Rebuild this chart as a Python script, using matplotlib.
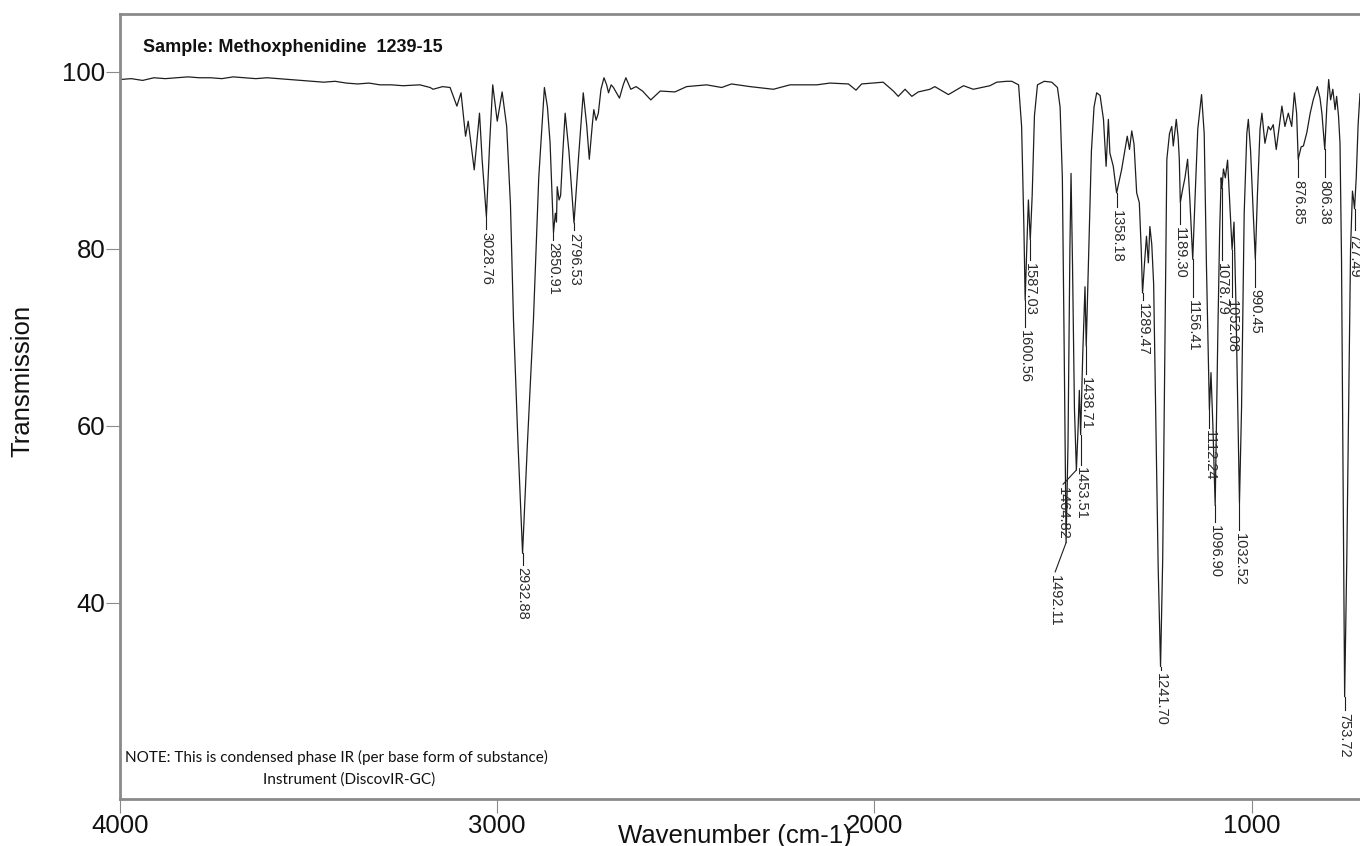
import matplotlib
matplotlib.use("Agg")
import matplotlib.pyplot as plt

# ---------------- data ----------------
wavenumber = [
    4000, 3970, 3940, 3910, 3880, 3850, 3820, 3790, 3760, 3730, 3700, 3670, 3640, 3610,
    3580, 3550, 3520, 3490, 3460, 3430, 3400, 3370, 3340, 3311, 3280, 3250, 3205, 3178,
    3170, 3145, 3125, 3107, 3096, 3084, 3077, 3061, 3047, 3040, 3028.76, 3020, 3012, 3000,
    2987, 2975, 2965, 2957, 2945, 2932.88, 2920, 2904, 2890, 2875, 2867, 2860, 2850.91,
    2846, 2843, 2841, 2836, 2832, 2826, 2820, 2810, 2796.53, 2785, 2772, 2763, 2756, 2748,
    2744, 2738, 2732, 2725, 2717, 2710, 2705, 2698, 2692, 2676, 2666, 2659, 2646, 2632,
    2615, 2593, 2568, 2529, 2498, 2470, 2445, 2405, 2379, 2330, 2268, 2224, 2153, 2118,
    2069, 2049, 2034, 1977, 1950, 1937, 1919, 1901, 1884, 1853, 1840, 1804, 1764, 1738,
    1694, 1676, 1650, 1636, 1618, 1610, 1604, 1600.56, 1596, 1592, 1587.03, 1582, 1576,
    1568, 1550, 1530, 1515, 1508, 1502, 1497, 1492.11, 1487, 1482, 1479, 1475, 1470,
    1464.82, 1460, 1457, 1453.51, 1448, 1442, 1438.71, 1432, 1425, 1418, 1411, 1402,
    1393, 1386, 1380, 1376, 1367, 1358.18, 1345, 1336, 1330, 1324, 1318, 1312, 1305,
    1298, 1293, 1289.47, 1284, 1279, 1274, 1270, 1265, 1260, 1254, 1248, 1241.70, 1236,
    1230, 1225, 1218, 1212, 1208, 1200, 1195, 1192, 1189.30, 1184, 1177, 1170, 1164,
    1156.41, 1150, 1143, 1133, 1126, 1120, 1112.24, 1108, 1103, 1096.90, 1090, 1085,
    1081, 1078.79, 1075, 1070, 1064, 1058, 1052.08, 1047, 1042, 1037, 1032.52, 1027,
    1020, 1013, 1009, 1003, 996, 990.45, 985, 978, 973, 965, 956, 950, 943, 935, 927,
    920, 912, 903, 894, 887, 881, 876.85, 869, 863, 854, 845, 837, 826, 819, 814, 806.38,
    801, 796, 791, 785, 779, 775, 770, 766, 762, 758, 753.72, 748, 743, 738, 733, 730,
    727.49, 723, 718, 713,
]
transmission = [
    99.1, 99.2, 99.0, 99.3, 99.2, 99.3, 99.4, 99.3, 99.3, 99.2, 99.4, 99.3, 99.2, 99.3,
    99.2, 99.1, 99.0, 98.9, 98.8, 98.9, 98.7, 98.6, 98.7, 98.5, 98.5, 98.4, 98.5, 98.2,
    98.0, 98.3, 98.2, 96.1, 97.6, 92.7, 94.4, 88.9, 95.3, 90.0, 83.6, 92.0, 98.5, 94.4,
    97.7, 93.8, 85.0, 72.0, 58.0, 45.6, 58.0, 72.0, 88.0, 98.2, 96.0, 92.0, 81.8,
    84.0, 83.0, 87.0, 85.5, 86.0, 91.0, 95.3, 91.0, 82.9, 90.0, 97.6, 94.0, 90.1, 94.0,
    95.7, 94.5, 95.3, 98.0, 99.3, 98.5, 97.6, 98.5, 98.2, 97.0, 98.5, 99.3, 98.0, 98.3,
    97.8, 96.8, 97.8, 97.7, 98.3, 98.4, 98.5, 98.2, 98.6, 98.3, 98.0, 98.5, 98.5, 98.7,
    98.6, 97.9, 98.6, 98.8, 97.8, 97.2, 98.0, 97.2, 97.7, 98.0, 98.3, 97.4, 98.4, 98.0,
    98.4, 98.8, 98.9, 98.9, 98.5, 93.8, 82.5, 74.2, 80.5, 85.5, 81.0, 86.0, 95.0,
    98.5, 98.9, 98.8, 98.2, 96.0, 88.0, 68.0, 46.8, 58.0, 80.0, 88.5, 78.0, 62.0,
    55.0, 60.0, 64.0, 59.0, 68.0, 75.7, 69.0, 80.0, 91.0, 96.0, 97.6, 97.3,
    94.6, 89.3, 94.6, 90.8, 89.3, 86.3, 88.9, 91.2, 92.7, 91.2, 93.3, 91.8, 86.3,
    85.2, 80.0, 75.0, 78.5, 81.4, 78.4, 82.5, 80.5, 76.0, 60.0, 44.0, 32.8, 45.0,
    70.0, 90.1, 93.0, 93.8, 91.6, 94.6, 92.5, 90.1, 85.2, 86.5, 88.0, 90.1, 85.5,
    78.8, 86.0, 93.5, 97.4, 93.0, 78.0, 61.8, 66.0, 60.0, 51.0, 70.0, 82.0,
    88.0, 86.8, 89.0, 88.0, 90.0, 85.0, 79.9, 83.0, 74.0, 62.0, 51.3, 62.0,
    84.0, 93.0, 94.6, 91.0, 84.0, 78.8, 86.0, 93.5, 95.3, 91.9, 93.8, 93.4, 94.0, 91.2, 93.8,
    96.1, 93.8, 95.3, 93.8, 97.6, 95.3, 90.1, 91.5, 91.6, 93.1, 95.3, 96.8, 98.3, 97.0, 95.3, 91.2,
    96.0, 99.1, 96.8, 98.0, 95.7, 97.2, 95.0, 91.9, 78.8, 55.0, 29.4, 45.0, 62.0, 80.0, 86.5, 85.5,
    84.5, 88.0, 94.0, 97.5,
]

# labelled peaks: position, depth at the tip
peak_wn = [3028.76, 2932.88, 2850.91, 2796.53, 1600.56, 1587.03, 1492.11, 1464.82,
           1453.51, 1438.71, 1358.18, 1289.47, 1241.70, 1189.30, 1156.41, 1112.24,
           1096.90, 1078.79, 1052.08, 1032.52, 990.45, 876.85, 806.38, 753.72, 727.49]
peak_T = [83.6, 45.6, 81.8, 82.9, 74.2, 81.0, 46.8, 55.0,
          59.0, 69.0, 86.3, 75.0, 32.8, 85.2, 78.8, 61.8,
          51.0, 86.8, 79.9, 51.3, 78.8, 90.1, 91.2, 29.4, 84.5]
peak_text = ["3028.76", "2932.88", "2850.91", "2796.53", "1600.56", "1587.03", "1492.11",
             "1464.82", "1453.51", "1438.71", "1358.18", "1289.47", "1241.70", "1189.30",
             "1156.41", "1112.24", "1096.90", "1078.79", "1052.08", "1032.52", "990.45",
             "876.85", "806.38", "753.72", "727.49"]

# label placement (layout, where each tag sits)
label_x = [3028.76, 2932.88, 2850.91, 2796.53, 1600.56, 1587.03, 1521.0, 1500.0,
           1453.51, 1438.71, 1358.18, 1289.47, 1241.70, 1189.30, 1156.41, 1112.24,
           1096.90, 1078.79, 1052.08, 1032.52, 990.45, 876.85, 806.38, 753.72, 727.49]
label_y = [81.9, 44.0, 80.7, 81.8, 70.8, 78.4, 43.2, 53.1,
           55.3, 65.5, 84.4, 73.9, 32.1, 82.5, 74.2, 59.5,
           48.8, 78.4, 74.2, 47.9, 75.4, 87.8, 87.8, 27.6, 81.8]

x_ticks = [4000, 3000, 2000, 1000]
y_ticks = [40, 60, 80, 100]

# ---------------- figure ----------------
W, H = 1360, 846
fig = plt.figure(figsize=(W / 100, H / 100), dpi=100)
ax = fig.add_axes([120 / W, 1 - 799 / H, 1 - 120 / W, (799 - 14) / H])

FONT = "Liberation Sans"
spine_col = "#8a8a8a"
line_col = "#1e1e1e"

ax.plot(wavenumber, transmission, color=line_col, lw=0.9)

for px, pt, lx, ly, txt in zip(peak_wn, peak_T, label_x, label_y, peak_text):
    ax.plot([px, lx], [pt, ly + 0.3], color=line_col, lw=0.8)
    ax.text(lx, ly, txt, rotation=270, ha="center", va="top",
            fontsize=10.5, family=FONT, color="#2a2a2a")

ax.set_xlim(4000, 713)
ax.set_ylim(17.85, 106.5)
ax.set_xticks(x_ticks)
ax.set_yticks(y_ticks)
ax.set_xticklabels([str(v) for v in x_ticks])
ax.set_yticklabels([str(v) for v in y_ticks])

for s in ["left", "bottom", "top"]:
    ax.spines[s].set_color(spine_col)
    ax.spines[s].set_linewidth(2.0)
ax.spines["right"].set_visible(False)

ax.tick_params(axis="both", direction="out", length=10, width=0.8, color=spine_col,
               labelsize=18.5, labelcolor="#111111")
ax.tick_params(axis="x", pad=0.5)
ax.tick_params(axis="y", pad=0.5)
for lab in ax.get_xticklabels() + ax.get_yticklabels():
    lab.set_family(FONT)

fig.text(735 / W, 1 - 836 / H, "Wavenumber (cm-1)", ha="center", va="center",
         fontsize=18.5, family=FONT, color="#111111")
fig.text(22 / W, 1 - 381 / H, "Transmission", ha="center", va="center",
         rotation=90, fontsize=18.5, family=FONT, color="#111111")

ax.text((143 - 120) / 1240, (799 - 47) / 785, "Sample: Methoxphenidine  1239-15",
        transform=ax.transAxes, ha="left", va="center", fontsize=13,
        fontweight="bold", family=FONT, color="#111111")

ax.text((125 - 120) / 1240, (799 - 757) / 785,
        "NOTE: This is condensed phase IR (per base form of substance)",
        transform=ax.transAxes, ha="left", va="center", fontsize=11,
        family="Lato", color="#111111")
ax.text((349 - 120) / 1240, (799 - 780) / 785, "Instrument (DiscovIR-GC)",
        transform=ax.transAxes, ha="center", va="center", fontsize=11,
        family="Lato", color="#111111")

fig.savefig("out.png", dpi=100)
